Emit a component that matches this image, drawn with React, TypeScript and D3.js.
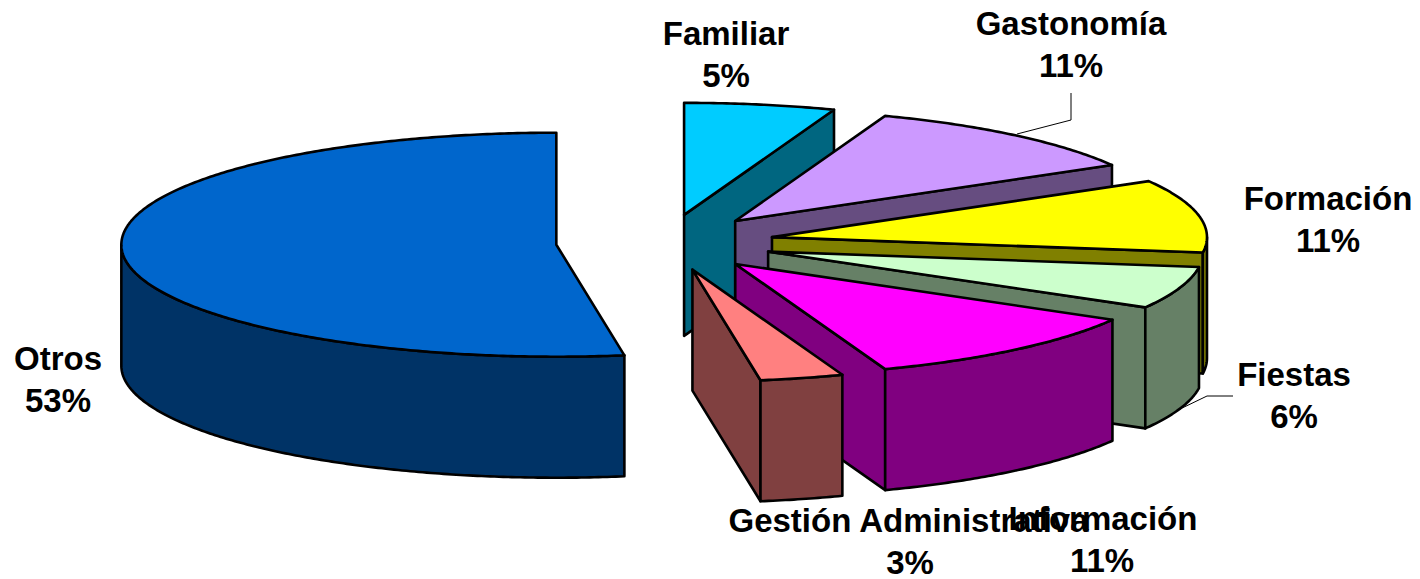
import React from "react";
import * as d3 from "d3";

const categories = ["Familiar", "Gastonomía", "Formación", "Fiestas", "Información", "Gestión Administrativa", "Otros"];
const values = [5.6, 11.07, 10.53, 6.1, 11.1, 3.1, 52.5];
const percentLabels = ["5%", "11%", "11%", "6%", "11%", "3%", "53%"];
const topColors = ["#00CCFF", "#CC99FF", "#FFFF00", "#CCFFCC", "#FF00FF", "#FF8080", "#0066CC"];
const sideColors = ["#006680", "#664D80", "#808000", "#668066", "#800080", "#804040", "#003366"];
// label centre x (name line, percent line), first-line baseline y
const labelX = [726, 1071, 1328, 1294, 1103, 908.5, 58];
const percentX = [726, 1071, 1328, 1294, 1102, 910, 58];
const labelY = [45, 35, 210, 386, 530, 532, 370];
const leaders: [number, number][][] = [
  [],
  [[1017, 134], [1071, 120], [1071, 93]],
  [],
  [[1178, 410], [1207, 396], [1233, 396]],
  [],
  [],
  [],
];

const W = 1420, H = 579;
const CX = 665, CY = 242.5, RX = 435, RY = 112, DEPTH = 121, EXPLODE = 109;
const SW = 2.6;

const xScale = d3.scaleLinear().domain([-1, 1]).range([-RX, RX]);
const yScale = d3.scaleLinear().domain([-1, 1]).range([-RY, RY]);
const pie = d3.pie<number>().sort(null).startAngle(0).endAngle(2 * Math.PI);
const line = d3.line<[number, number]>();

const ring = (a: number, ox: number, oy: number): [number, number] => [
  ox + xScale(Math.sin(a)),
  oy + yScale(-Math.cos(a)),
];
const sampled = (a0: number, a1: number) => {
  const n = Math.max(2, Math.ceil(Math.abs(a1 - a0) / 0.01));
  return d3.range(n + 1).map((i) => a0 + ((a1 - a0) * i) / n);
};

export default function App() {
  const arcs = pie(values);
  return (
    <svg
      width={W}
      height={H}
      viewBox={`0 0 ${W} ${H}`}
      style={{ position: "absolute", left: 0, top: 0, background: "#fff" }}
    >
      {/* back-to-front: Otros first, then clockwise from Familiar */}
      {[6, 0, 1, 2, 3, 4, 5].map((i) => {
        const { startAngle: s, endAngle: e } = arcs[i];
        const mid = (s + e) / 2;
        const ox = CX + (EXPLODE / RX) * xScale(Math.sin(mid));
        const oy = CY + (EXPLODE / RX) * yScale(-Math.cos(mid));
        const apex: [number, number] = [ox, oy];
        const topPts: [number, number][] = [apex, ...sampled(s, e).map((a) => ring(a, ox, oy))];
        const faces: React.ReactNode[] = [];
        // radial end wall, seen when it turns toward the viewer
        if (e < Math.PI) {
          const p = ring(e, ox, oy);
          const wall: [number, number][] = [apex, p, [p[0], p[1] + DEPTH], [ox, oy + DEPTH]];
          faces.push(<path key="w" d={line(wall) + "Z"} fill={sideColors[i]} stroke="#000" strokeWidth={SW} strokeLinejoin="round" />);
        }
        // outer rim, front half only
        const r0 = Math.max(s, Math.PI / 2), r1 = Math.min(e, (3 * Math.PI) / 2);
        if (r1 > r0) {
          const up = sampled(r0, r1).map((a) => ring(a, ox, oy));
          const down = up.slice().reverse().map(([x, y]) => [x, y + DEPTH] as [number, number]);
          faces.push(<path key="r" d={line([...up, ...down]) + "Z"} fill={sideColors[i]} stroke="#000" strokeWidth={SW} strokeLinejoin="round" />);
        }
        return (
          <g key={categories[i]}>
            {faces}
            <path d={line(topPts) + "Z"} fill={topColors[i]} stroke="#000" strokeWidth={SW} strokeLinejoin="round" />
          </g>
        );
      })}
      {leaders.map((pts, i) =>
        pts.length ? <path key={i} d={line(pts) ?? ""} fill="none" stroke="#000" strokeWidth={1} /> : null
      )}
      {categories.map((c, i) => (
        <text
          key={c}
          textAnchor="middle"
          fontFamily="'Liberation Sans', Arial, sans-serif"
          fontWeight="bold"
          fontSize={33}
          fill="#000"
        >
          <tspan x={labelX[i]} y={labelY[i]}>{c}</tspan>
          <tspan x={percentX[i]} y={labelY[i] + 42}>{percentLabels[i]}</tspan>
        </text>
      ))}
    </svg>
  );
}
